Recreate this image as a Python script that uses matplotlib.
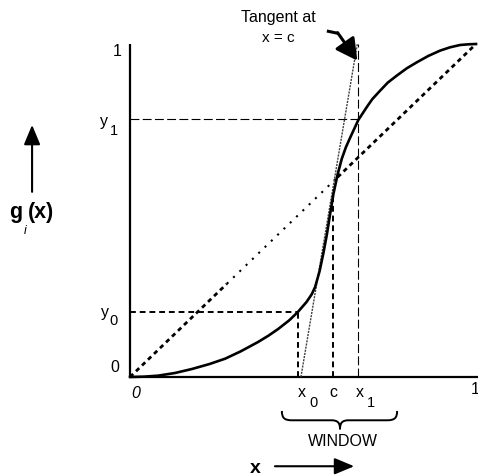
import numpy as np
import matplotlib.pyplot as plt
from matplotlib.path import Path
from matplotlib.patches import PathPatch

plt.rcParams['font.family'] = ['Liberation Sans', 'DejaVu Sans']

# g_i(x)
curve_x = [0.0, 0.04, 0.081, 0.13, 0.179, 0.23, 0.275, 0.32, 0.37, 0.40, 0.428, 0.46,
           0.485, 0.51, 0.525, 0.535, 0.548, 0.559, 0.569, 0.578, 0.588, 0.600, 0.612, 0.624,
           0.636, 0.648, 0.660, 0.684, 0.700, 0.723, 0.745, 0.771, 0.800, 0.829, 0.862,
           0.896, 0.925, 0.954, 0.978, 1.0]
curve_y = [0.0, 0.001, 0.004, 0.012, 0.024, 0.039, 0.055, 0.077, 0.105, 0.124, 0.144, 0.170,
           0.195, 0.225, 0.248, 0.270, 0.318, 0.372, 0.428, 0.487, 0.550, 0.608, 0.655, 0.690,
           0.718, 0.745, 0.772, 0.810, 0.834, 0.860, 0.884, 0.905, 0.927, 0.945, 0.964,
           0.980, 0.990, 0.997, 0.999, 1.0]

# window and levels
x0, c, x1 = 0.485, 0.588, 0.660
y0, y1 = 0.195, 0.776
g_c = 0.55

# tangent at x = c
tan_x = [0.494, 0.657]
tan_y = [0.0, 1.0]

# diagonal g(x) = x : dashed at both ends, dotted in the middle
diag_breaks = [0.0, 0.28, 0.60, 1.0]

fig = plt.figure(figsize=(4.78, 4.77), dpi=100)
ax = fig.add_axes([0, 0, 1, 1])
ax.set_xlim(-0.3757, 1.0058)
ax.set_ylim(-0.2973, 1.1351)
ax.axis('off')

# axes
ax.plot([0, 0], [0, 1], color='black', lw=1.6, solid_capstyle='butt')
ax.plot([0, 1.006], [0, 0], color='black', lw=1.6, solid_capstyle='butt')

# diagonal
ax.plot(diag_breaks[0:2], diag_breaks[0:2], color='black', lw=2.0, dashes=(1.6, 1.4))
ax.plot(diag_breaks[1:3], diag_breaks[1:3], color='black', lw=1.5, dashes=(1, 3.2))
ax.plot(diag_breaks[2:4], diag_breaks[2:4], color='black', lw=2.0, dashes=(1.6, 1.4))

# guide lines
ax.plot([0, x0], [y0, y0], color='black', lw=1.4, dashes=(3, 2))
ax.plot([x0, x0], [0, y0], color='black', lw=1.4, dashes=(3, 2))
ax.plot([c, c], [0, g_c], color='black', lw=1.4, dashes=(3, 2))
ax.plot([0, x1], [y1, y1], color='black', lw=0.8, dashes=(8, 3))
ax.plot([x1, x1], [0, 1], color='black', lw=0.8, dashes=(8, 3))

# tangent
ax.plot(tan_x, tan_y, color='0.25', lw=1.0, dashes=(1.5, 0.8))

# the curve
ax.plot(curve_x, curve_y, color='black', lw=1.9, solid_joinstyle='round')

fs = 11.5
# y labels
ax.text(-0.0376, 0.979, '1', fontsize=fs, ha='center', va='center')
ax.text(-0.043, 0.033, '0', fontsize=fs, ha='center', va='center')
ax.text(-0.075, 0.769, 'y', fontsize=fs, ha='center', va='center')
ax.text(-0.046, 0.742, '1', fontsize=fs - 1, ha='center', va='center')
ax.text(-0.072, 0.198, 'y', fontsize=fs, ha='center', va='center')
ax.text(-0.049, 0.171, '0', fontsize=fs - 1, ha='center', va='center')

# x labels
ax.text(0.017, -0.048, '0', fontsize=fs, ha='center', va='center', style='italic')
ax.text(0.997, -0.036, '1', fontsize=fs, ha='center', va='center')
ax.text(0.497, -0.045, 'x', fontsize=fs, ha='center', va='center')
ax.text(0.529, -0.074, '0', fontsize=fs - 1, ha='center', va='center')
ax.text(0.587, -0.045, 'c', fontsize=fs, ha='center', va='center')
ax.text(0.665, -0.045, 'x', fontsize=fs, ha='center', va='center')
ax.text(0.697, -0.076, '1', fontsize=fs - 1, ha='center', va='center')

# tangent note
ax.text(0.428, 1.084, 'Tangent at', fontsize=fs, ha='center', va='center')
ax.text(0.428, 1.021, 'x = c', fontsize=fs - 0.5, ha='center', va='center')
ax.plot([0.569, 0.601], [1.039, 1.032], color='black', lw=2.2, solid_capstyle='butt')
ax.annotate('', xy=(0.657, 0.950), xytext=(0.600, 1.034),
            arrowprops=dict(arrowstyle='-|>,head_length=0.65,head_width=0.35',
                            mutation_scale=20, color='black', lw=2.2,
                            shrinkA=0, shrinkB=0))

# g_i(x) label with arrow
ax.text(-0.350, 0.480, 'g', fontsize=15.5, fontweight='bold', ha='left', va='baseline')
ax.text(-0.295, 0.480, '(x)', fontsize=15.5, fontweight='bold', ha='left', va='baseline')
ax.text(-0.303, 0.441, 'i', fontsize=9, style='italic', ha='center', va='center')
ax.annotate('', xy=(-0.283, 0.757), xytext=(-0.283, 0.556),
            arrowprops=dict(arrowstyle='-|>,head_length=0.6,head_width=0.25',
                            mutation_scale=20, color='black', lw=1.5,
                            shrinkA=0, shrinkB=0))

# x label with arrow
ax.text(0.361, -0.272, 'x', fontsize=14, fontweight='bold', ha='center', va='center')
ax.annotate('', xy=(0.648, -0.268), xytext=(0.419, -0.268),
            arrowprops=dict(arrowstyle='-|>,head_length=0.6,head_width=0.25',
                            mutation_scale=20, color='black', lw=1.5,
                            shrinkA=0, shrinkB=0))

# brace under the window
bl, br, bm = 0.439, 0.772, 0.607
bt, bf, bp = -0.102, -0.130, -0.157
verts = [(bl, bt), (bl, bt - 0.022), (bl + 0.008, bf), (bl + 0.03, bf),
         (bm - 0.025, bf),
         (bm - 0.006, bf), (bm, bf - 0.008), (bm, bp),
         (bm, bf - 0.008), (bm + 0.006, bf), (bm + 0.025, bf),
         (br - 0.03, bf),
         (br - 0.008, bf), (br, bt - 0.022), (br, bt)]
codes = [Path.MOVETO, Path.CURVE4, Path.CURVE4, Path.CURVE4,
         Path.LINETO,
         Path.CURVE4, Path.CURVE4, Path.CURVE4,
         Path.CURVE4, Path.CURVE4, Path.CURVE4,
         Path.LINETO,
         Path.CURVE4, Path.CURVE4, Path.CURVE4]
ax.add_patch(PathPatch(Path(verts, codes), fill=False, lw=1.4, edgecolor='black'))
ax.text(0.616, -0.192, 'WINDOW', fontsize=fs, ha='center', va='center')

fig.savefig('out.png', dpi=100)
